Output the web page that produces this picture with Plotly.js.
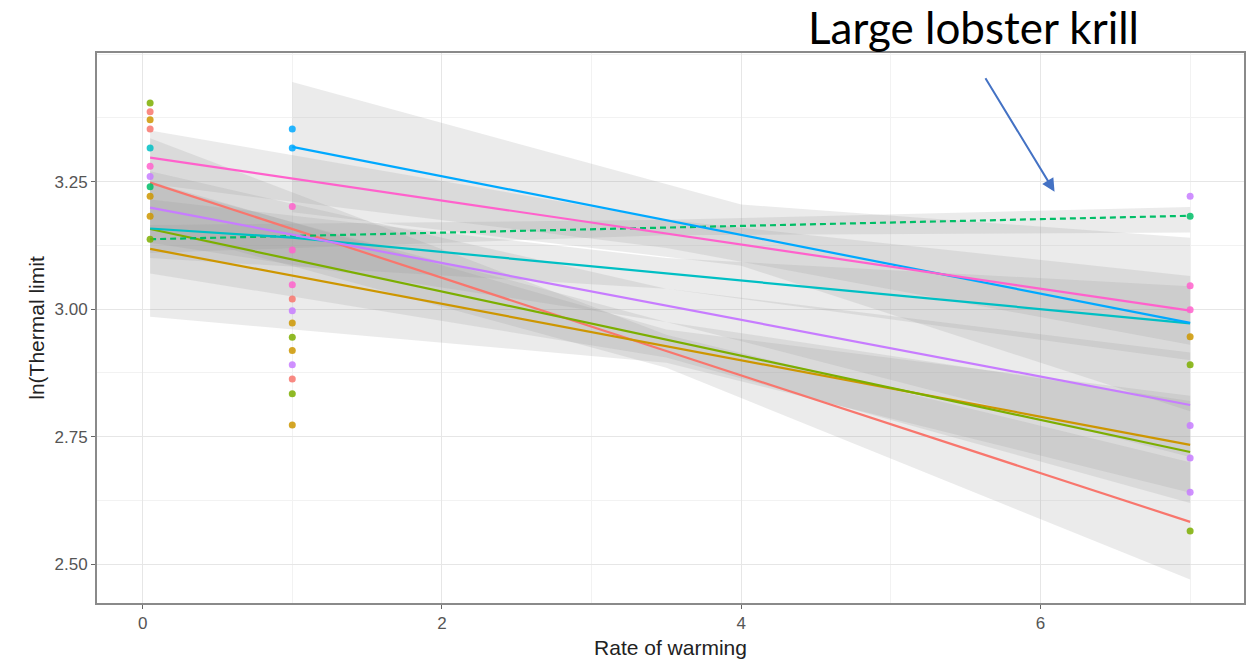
<!DOCTYPE html>
<html>
<head>
<meta charset="utf-8">
<script src="https://cdn.plot.ly/plotly-3.0.1.min.js"></script>
<style>html,body{margin:0;padding:0;background:#fff;}#chart{width:1248px;height:663px;}</style>
</head>
<body>
<div id="chart"></div>
<script>
// ---- group names and colours (ggplot hue palette, 8 groups) ----
const groupNames = ['G1','G2','G3','Large lobster krill','G5','G6','G7','G8'];
const groupColors = ['#F8766D','#CD9600','#7CAE00','#00BE67','#00BFC4','#00A9FF','#C77CFF','#FF61CC'];
const groupDash = ['solid','solid','solid','dash','solid','solid','solid','solid'];

// ---- fitted lines ----
const fitX = [[0.05,7],[0.05,7],[0.05,7],[0.05,7],[0.05,1,7],[1,7],[0.05,7],[0.05,7]];
const fitY = [[3.248,2.583],[3.118,2.734],[3.157,2.720],[3.137,3.183],[3.158,3.140,2.972],[3.318,2.973],[3.199,2.812],[3.297,2.997]];

// ---- confidence ribbons ----
const ribX = [[0.05,3.5,7],[0.05,3.5,7],[0.05,3.5,7],[0.05,3.5,7],[0.05,3.5,7],[1,4,7],[0.05,3.5,7],[0.05,3.5,7]];
const ribLo = [[3.16,2.885,2.47],[2.985,2.895,2.64],[3.07,2.905,2.62],[3.11,3.145,3.15],[3.10,3.04,2.90],[3.19,3.085,2.80],[3.13,2.975,2.71],[3.245,3.12,2.93]];
const ribHi = [[3.335,2.95,2.70],[3.25,2.96,2.83],[3.245,2.975,2.82],[3.165,3.175,3.20],[3.215,3.10,3.045],[3.445,3.205,3.14],[3.27,3.04,2.915],[3.35,3.175,3.065]];

// ---- observed points ----
const ptX = [
  [0.05,0.05,1,1],
  [0.05,0.05,0.05,1,1,1,7],
  [0.05,0.05,1,1,7,7],
  [0.05,7],
  [0.05],
  [1,1],
  [0.05,1,1,7,7,7,7],
  [0.05,1,1,1,7,7]
];
const ptY = [
  [3.387,3.353,3.020,2.863],
  [3.371,3.221,3.182,2.973,2.919,2.773,2.946],
  [3.404,3.137,2.945,2.834,2.891,2.565],
  [3.240,3.182],
  [3.316],
  [3.353,3.316],
  [3.260,2.997,2.891,3.221,2.772,2.708,2.641],
  [3.280,3.201,3.116,3.048,3.046,2.999]
];

// ---- axis ticks ----
const xTicks = [0,2,4,6];
const yTicks = [2.50,2.75,3.00,3.25];
const yTickText = ['2.50','2.75','3.00','3.25'];

const traces = [];
// ribbons
for (let i = 0; i < groupNames.length; i++) {
  const xs = ribX[i].concat(ribX[i].slice().reverse());
  const ys = ribHi[i].concat(ribLo[i].slice().reverse());
  traces.push({
    x: xs, y: ys, type: 'scatter', mode: 'lines', fill: 'toself',
    fillcolor: 'rgba(150,150,150,0.19)', line: {width: 0},
    hoverinfo: 'skip', showlegend: false
  });
}
// lines
for (let i = 0; i < groupNames.length; i++) {
  traces.push({
    x: fitX[i], y: fitY[i], type: 'scatter', mode: 'lines', name: groupNames[i],
    line: {color: groupColors[i], width: 2.2, dash: groupDash[i] === 'dash' ? '6px,4px' : 'solid'},
    showlegend: false
  });
}
// points
for (let i = 0; i < groupNames.length; i++) {
  traces.push({
    x: ptX[i], y: ptY[i], type: 'scatter', mode: 'markers', name: groupNames[i],
    marker: {color: groupColors[i], size: 7, opacity: 0.85, line: {width: 0}},
    showlegend: false
  });
}

const tickFont = {family: 'Liberation Sans, Arial, sans-serif', size: 17, color: '#555555'};
const titleFont = {family: 'Liberation Sans, Arial, sans-serif', size: 21, color: '#222222'};

const layout = {
  width: 1248, height: 663,
  margin: {l: 97, r: 4, t: 53, b: 60},
  paper_bgcolor: '#ffffff', plot_bgcolor: '#ffffff',
  showlegend: false,
  xaxis: {
    range: [-0.305, 7.36], tickvals: xTicks, ticktext: xTicks.map(String),
    showgrid: true, gridcolor: '#e6e6e6', gridwidth: 1,
    minor: {dtick: 1, tick0: 1, showgrid: true, gridcolor: '#f2f2f2', gridwidth: 1},
    zeroline: false, showline: true, mirror: true, linecolor: '#8a8a8a', linewidth: 2,
    ticks: 'outside', ticklen: 4, tickcolor: '#666666', tickwidth: 1,
    tickfont: tickFont,
    title: {text: 'Rate of warming', font: titleFont, standoff: 8}
  },
  yaxis: {
    range: [2.424, 3.502], tickvals: yTicks, ticktext: yTickText,
    showgrid: true, gridcolor: '#e6e6e6', gridwidth: 1,
    minor: {dtick: 0.125, tick0: 2.375, showgrid: true, gridcolor: '#f2f2f2', gridwidth: 1},
    zeroline: false, showline: true, mirror: true, linecolor: '#8a8a8a', linewidth: 2,
    ticks: 'outside', ticklen: 4, tickcolor: '#666666', tickwidth: 1,
    tickfont: tickFont,
    title: {text: 'ln(Thermal limit', font: titleFont, standoff: 4}
  },
  annotations: [
    {
      text: 'Large lobster krill', xref: 'paper', yref: 'paper', x: 0.764, y: 1.048,
      xanchor: 'center', yanchor: 'middle', showarrow: false,
      font: {family: 'Lato, Open Sans, sans-serif', size: 44, color: '#000000'}
    },
    {
      text: '', xref: 'x', yref: 'y', x: 6.094, y: 3.23, ax: -70, ay: -115,
      showarrow: true, arrowhead: 2, arrowsize: 1.3, arrowwidth: 2, arrowcolor: '#4472C4'
    }
  ]
};

Plotly.newPlot('chart', traces, layout, {displayModeBar: false, responsive: false});
</script>
</body>
</html>
